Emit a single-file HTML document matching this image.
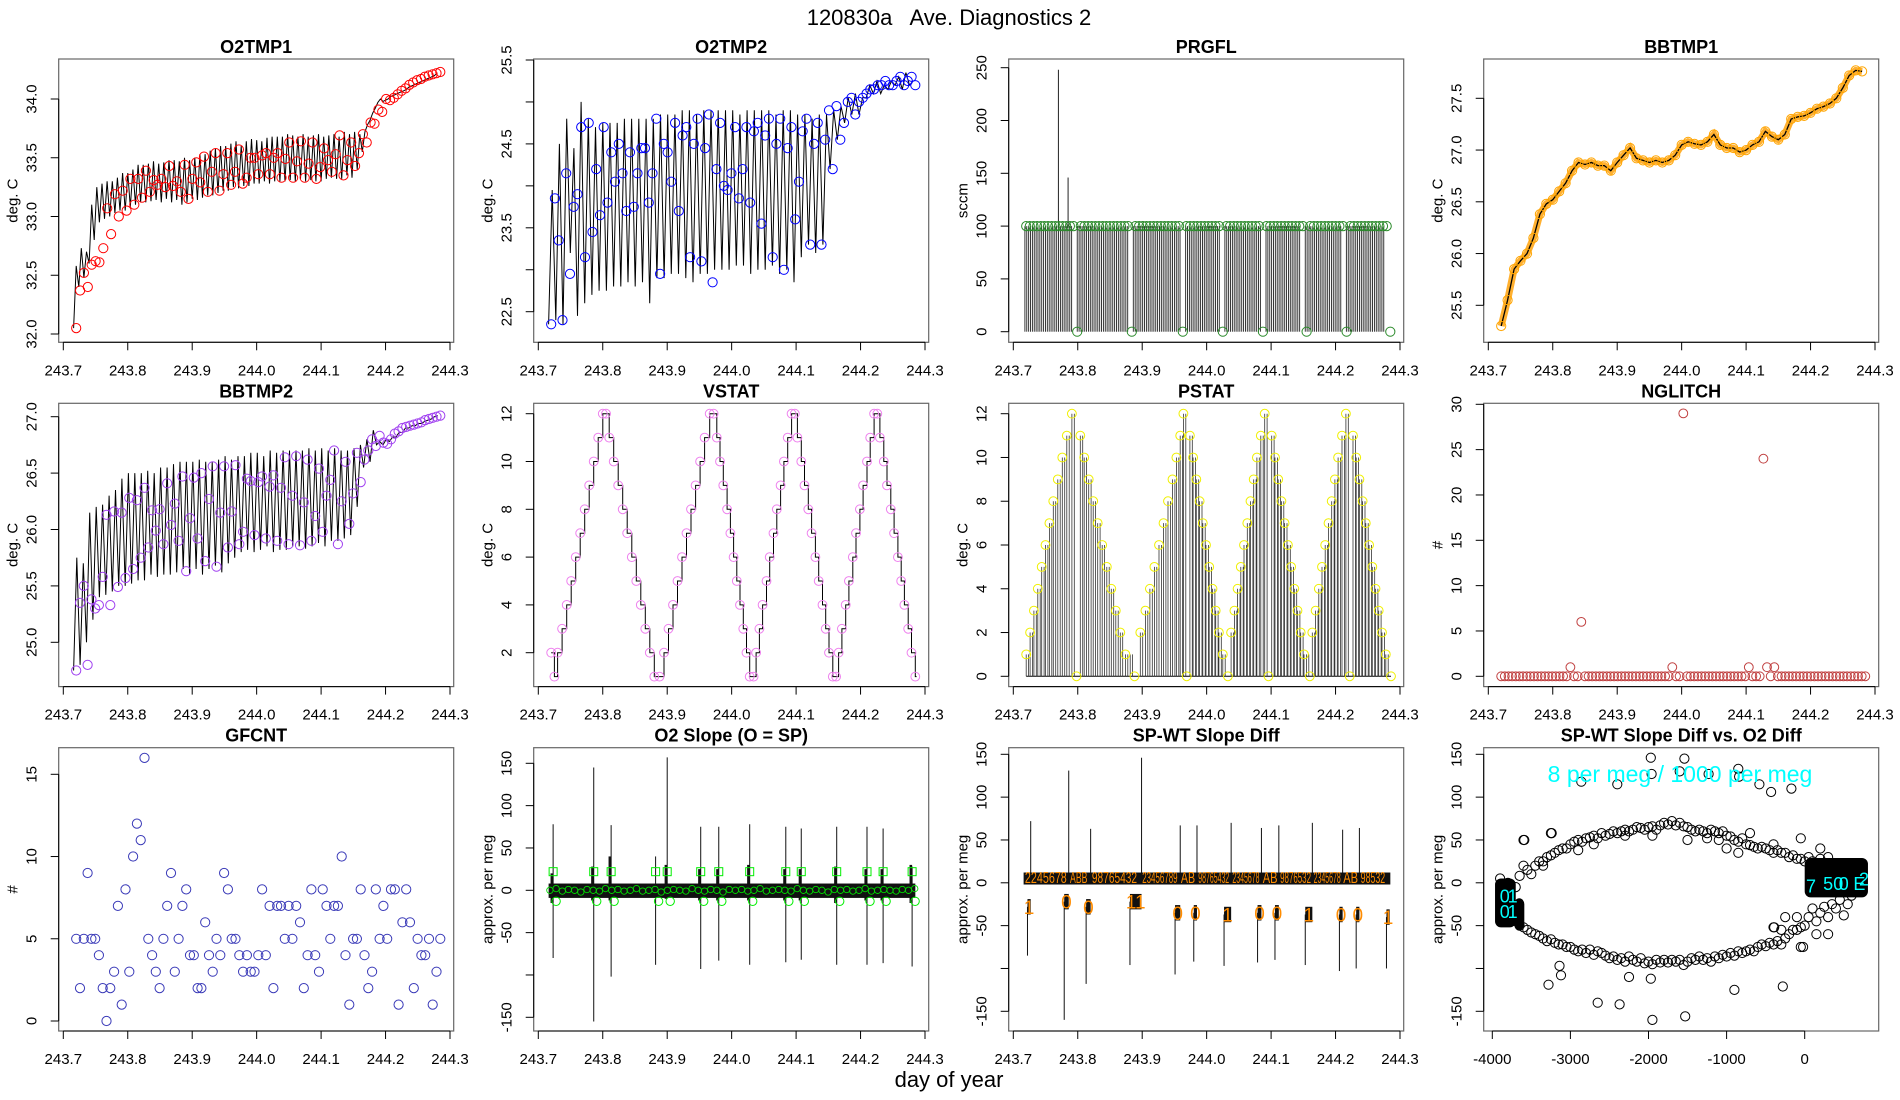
<!DOCTYPE html>
<html><head><meta charset="utf-8"><title>120830a Ave. Diagnostics 2</title>
<style>
html,body{margin:0;padding:0;background:#fff;}
svg{display:block;font-family:"Liberation Sans",Arial,sans-serif;}
</style></head>
<body>
<svg id="chart" xmlns="http://www.w3.org/2000/svg" width="1900" height="1100" viewBox="0 0 1900 1100">
<rect x="0" y="0" width="1900" height="1100" fill="#fff"/>
<text x="949" y="25" text-anchor="middle" font-size="22">120830a &#160; Ave. Diagnostics 2</text>
<text x="949" y="1087" text-anchor="middle" font-size="22">day of year</text>
</svg>
<script>
// ---------- data ----------
const timeTicks=[243.7,243.8,243.9,244.0,244.1,244.2,244.3];
const timeTickLabels=['243.7','243.8','243.9','244.0','244.1','244.2','244.3'];

// O2TMP1
const o2t1LineT0=243.716, o2t1Cycle=0.008;
const o2t1Lo=[32.05,32.40,32.48,32.60,32.80,32.95,32.98,33.00,33.03,33.05,33.05,33.08,33.10,33.12,33.12,33.13,33.14,33.12,33.15,33.12,33.14,33.10,33.12,33.15,33.14,33.16,33.18,33.18,33.20,33.22,33.22,33.25,33.24,33.26,33.26,33.28,33.28,33.30,33.28,33.30,33.30,33.30,33.31,33.30,33.32,33.30,33.31,33.30,33.30,33.32,33.33,33.32,33.32,33.35,33.33,33.40,33.55,33.78,33.88,33.97,33.98,34.00,34.03,34.05,34.07,34.10,34.12,34.14,34.16,34.18,34.20];
const o2t1Hi=[32.58,32.73,32.70,33.10,33.25,33.28,33.30,33.30,33.33,33.37,33.37,33.40,33.44,33.44,33.45,33.47,33.45,33.46,33.48,33.48,33.47,33.50,33.48,33.50,33.53,33.53,33.56,33.58,33.60,33.60,33.62,33.64,33.60,33.64,33.66,33.65,33.64,33.67,33.68,33.68,33.68,33.70,33.69,33.68,33.70,33.68,33.69,33.70,33.68,33.69,33.70,33.68,33.72,33.70,33.72,33.70,33.72,33.82,33.92,34.00,33.99,34.02,34.04,34.06,34.08,34.11,34.13,34.15,34.17,34.19,34.22];
const o2t1Pts=[32.05,32.37,32.52,32.40,32.59,32.62,32.61,32.73,33.07,32.85,33.19,33.00,33.22,33.05,33.32,33.10,33.32,33.16,33.39,33.21,33.31,33.27,33.32,33.25,33.43,33.26,33.30,33.21,33.44,33.15,33.32,33.46,33.29,33.51,33.21,33.38,33.54,33.22,33.36,33.54,33.27,33.38,33.57,33.28,33.33,33.50,33.50,33.36,33.52,33.54,33.36,33.50,33.54,33.33,33.49,33.63,33.33,33.47,33.64,33.33,33.45,33.63,33.32,33.42,33.58,33.48,33.38,33.53,33.69,33.35,33.48,33.63,33.43,33.54,33.70,33.63,33.80,33.79,33.91,33.89,34.00,33.99,34.01,34.04,34.07,34.09,34.12,34.14,34.16,34.17,34.19,34.20,34.21,34.22,34.23];

// O2TMP2
const o2t2LineT0=243.716, o2t2Cycle=0.0112;
const o2t2Lo=[22.35,22.4,22.35,23.2,22.45,22.6,22.7,22.75,22.75,22.8,22.8,22.85,22.8,22.85,22.6,22.9,22.9,22.95,22.95,22.9,22.85,22.95,22.95,23.0,23.0,23.0,23.05,23.05,22.95,23.0,23.0,23.05,22.95,23.0,22.85,23.15,23.3,23.2,23.3,24.2,24.55,24.75,24.85,24.85,25.05,25.1,25.1,25.15,25.2,25.15,25.2];
const o2t2Hi=[23.95,24.5,24.8,24.45,25.0,24.8,24.7,24.75,24.75,24.75,24.8,24.8,24.8,24.8,24.8,24.85,24.85,24.85,24.9,24.9,24.85,24.9,24.9,24.9,24.9,24.9,24.85,24.9,24.9,24.9,24.9,24.85,24.9,24.9,24.85,24.85,24.8,24.85,24.85,24.9,24.95,25.05,25.1,25.05,25.2,25.25,25.2,25.25,25.3,25.35,25.25];
const o2t2Pts=[22.35,23.85,23.35,22.4,24.15,22.95,23.75,23.9,24.7,23.15,24.75,23.45,24.2,23.65,24.7,23.8,24.4,24.05,24.5,24.15,23.7,24.4,23.75,24.15,24.45,24.45,23.8,24.15,24.8,22.95,24.5,24.4,24.05,24.75,23.7,24.6,24.7,23.15,24.5,24.8,23.1,24.45,24.85,22.85,24.2,24.75,24.0,23.95,24.15,24.7,23.85,24.2,24.7,23.8,24.65,24.75,23.55,24.6,24.8,23.15,24.5,24.8,23.0,24.45,24.7,23.6,24.05,24.65,24.8,23.3,24.5,24.75,23.3,24.55,24.9,24.2,24.95,24.55,24.75,25.0,25.05,24.85,25.0,25.05,25.1,25.15,25.15,25.2,25.2,25.25,25.2,25.2,25.25,25.3,25.2,25.25,25.3,25.2];

// PRGFL
const prgflStemT0=243.718, prgflStemStep=0.0029;
const prgflStemRuns=[[100,26],[0,2],[100,28],[0,2],[100,26],[0,2],[100,19],[0,2],[100,20],[0,2],[100,19],[0,2],[100,20],[0,2],[100,21],[0,2]];
const prgflSpikeT=[243.770,243.785];
const prgflSpikeV=[248,146];
const prgflPtRuns=[[100,14],[0,1],[100,14],[0,1],[100,13],[0,1],[100,10],[0,1],[100,10],[0,1],[100,11],[0,1],[100,10],[0,1],[100,11],[0,1]];

// BBTMP1
const bb1T0=243.72, bb1Step=0.01;
const bb1Vals=[25.3,25.55,25.85,25.93,26.0,26.15,26.38,26.48,26.52,26.6,26.68,26.8,26.88,26.86,26.88,26.85,26.85,26.8,26.88,26.95,27.02,26.92,26.9,26.88,26.9,26.88,26.9,26.95,27.05,27.08,27.06,27.05,27.08,27.15,27.05,27.02,27.02,26.98,27.0,27.05,27.08,27.18,27.13,27.1,27.15,27.3,27.32,27.33,27.36,27.4,27.42,27.45,27.5,27.6,27.72,27.77,27.76];

// BBTMP2
const bb2LineT0=243.716, bb2Cycle=0.01;
const bb2Lo=[24.75,24.8,25.0,25.2,25.4,25.42,25.45,25.5,25.5,25.52,25.55,25.55,25.6,25.58,25.6,25.6,25.62,25.65,25.6,25.65,25.6,25.65,25.68,25.62,25.7,25.75,25.8,25.82,25.8,25.82,25.85,25.8,25.82,25.82,25.85,25.85,25.83,25.85,25.88,25.85,25.9,25.9,25.92,25.95,26.2,26.55,26.6,26.75,26.75,26.78,26.82,26.86,26.9,26.92,26.94,26.97,27.0];
const bb2Hi=[25.75,25.7,26.15,26.2,26.22,26.3,26.35,26.45,26.5,26.5,26.5,26.52,26.5,26.55,26.55,26.58,26.6,26.6,26.6,26.62,26.6,26.6,26.62,26.65,26.62,26.65,26.65,26.68,26.68,26.65,26.7,26.68,26.7,26.7,26.7,26.7,26.72,26.7,26.72,26.7,26.72,26.7,26.7,26.72,26.75,26.8,26.88,26.78,26.8,26.82,26.86,26.9,26.92,26.94,26.96,26.98,27.01];
const bb2Pts=[24.75,25.35,25.5,24.8,25.38,25.3,25.33,25.58,26.13,25.33,26.16,25.49,26.15,25.57,26.28,25.65,26.26,25.75,26.37,25.84,26.17,25.99,26.18,25.87,26.41,26.04,26.23,25.9,26.47,25.63,26.1,26.46,25.92,26.5,25.72,26.27,26.56,25.67,26.15,26.56,25.84,26.16,26.57,25.87,25.98,26.45,26.43,25.95,26.42,26.47,25.92,26.38,26.48,25.9,26.37,26.64,25.87,26.3,26.65,25.86,26.24,26.62,25.9,26.12,26.54,25.98,26.3,26.44,26.7,25.87,26.25,26.6,26.05,26.32,26.68,26.42,26.62,26.7,26.8,26.74,26.83,26.77,26.76,26.8,26.85,26.87,26.9,26.91,26.92,26.93,26.94,26.95,26.97,26.98,26.99,27.0,27.01];

// VSTAT
const vstatT=[243.720,243.725,243.730,243.737,243.744,243.751,243.758,243.765,243.772,243.779,243.786,243.793,243.800,243.805,243.810,243.817,243.824,243.831,243.838,243.845,243.852,243.859,243.866,243.873,243.880,243.888,243.895,243.902,243.909,243.916,243.923,243.930,243.937,243.944,243.951,243.958,243.966,243.972,243.977,243.982,243.987,243.993,243.998,244.003,244.008,244.013,244.018,244.023,244.028,244.034,244.038,244.043,244.048,244.054,244.059,244.065,244.070,244.076,244.081,244.087,244.093,244.098,244.102,244.108,244.113,244.119,244.124,244.130,244.135,244.141,244.146,244.151,244.157,244.162,244.166,244.171,244.177,244.182,244.188,244.193,244.199,244.204,244.210,244.215,244.221,244.226,244.230,244.236,244.241,244.247,244.252,244.258,244.263,244.268,244.274,244.279,244.285];
const vstatV=[2,1,2,3,4,5,6,7,8,9,10,11,12,12,11,10,9,8,7,6,5,4,3,2,1,1,2,3,4,5,6,7,8,9,10,11,12,12,11,10,9,8,7,6,5,4,3,2,1,1,2,3,4,5,6,7,8,9,10,11,12,12,11,10,9,8,7,6,5,4,3,2,1,1,2,3,4,5,6,7,8,9,10,11,12,12,11,10,9,8,7,6,5,4,3,2,1];

// PSTAT
const pstatT=[243.720,243.726,243.732,243.738,243.744,243.750,243.756,243.762,243.769,243.776,243.783,243.791,243.798,243.804,243.810,243.817,243.824,243.831,243.838,243.845,243.852,243.859,243.866,243.874,243.888,243.897,243.905,243.912,243.919,243.926,243.933,243.940,243.947,243.953,243.959,243.964,243.969,243.974,243.979,243.984,243.989,243.994,243.999,244.004,244.009,244.014,244.019,244.025,244.033,244.038,244.043,244.048,244.053,244.058,244.063,244.068,244.073,244.078,244.084,244.090,244.096,244.101,244.106,244.111,244.116,244.121,244.126,244.131,244.136,244.141,244.146,244.151,244.160,244.164,244.169,244.174,244.179,244.184,244.189,244.194,244.199,244.204,244.210,244.216,244.222,244.227,244.232,244.237,244.242,244.247,244.252,244.257,244.262,244.267,244.272,244.278,244.286];
const pstatV=[1,2,3,4,5,6,7,8,9,10,11,12,0,11,10,9,8,7,6,5,4,3,2,1,0,2,3,4,5,6,7,8,9,10,11,12,0,11,10,9,8,7,6,5,4,3,2,1,0,2,3,4,5,6,7,8,9,10,11,12,0,11,10,9,8,7,6,5,4,3,2,1,0,2,3,4,5,6,7,8,9,10,11,12,0,11,10,9,8,7,6,5,4,3,2,1,0];

// NGLITCH
const nglitchVals=[0,0,0,0,0,0,0,0,0,0,0,0,0,0,0,0,0,0,0,1,0,0,6,0,0,0,0,0,0,0,0,0,0,0,0,0,0,0,0,0,0,0,0,0,0,0,0,1,0,0,29,0,0,0,0,0,0,0,0,0,0,0,0,0,0,0,0,0,1,0,0,0,24,1,0,1,0,0,0,0,0,0,0,0,0,0,0,0,0,0,0,0,0,0,0,0,0,0,0,0,0];

// GFCNT
const gfcntVals=[5,2,5,9,5,5,4,2,0,2,3,7,1,8,3,10,12,11,16,5,4,3,2,5,7,9,3,5,7,8,4,4,2,2,6,4,3,5,4,9,8,5,5,4,3,4,3,3,4,8,4,7,2,7,7,5,7,5,7,6,2,4,8,4,3,8,7,5,7,7,10,4,1,5,5,8,4,2,3,8,5,7,5,8,8,1,6,8,6,2,5,4,4,5,1,3,5];

// O2 Slope
const o2sSpikeT=[243.723,243.786,243.813,243.882,243.900,243.952,243.980,244.028,244.084,244.108,244.163,244.210,244.235,244.280];
const o2sSpikeUp=[78,145,77,40,157,75,75,78,75,73,75,75,73,28];
const o2sSpikeDn=[-80,-155,-102,-88,-5,-93,-83,-88,-85,-82,-88,-88,-86,-90];
const o2sBumpHi=[20,28,40,30,25,25,30,25,25,28,25,25,30];
const o2sBumpLo=[-15,-12,-12,-10,-12,-12,-12,-12,-12,-15,-12,-12,-15];
const o2sGreen=[0,2,-1,1,0,-2,1,0,-1,2,0,1,-1,0,2,-1,0,1,-2,0,1,0,-1,2,0,-1,1,0,-2,1,0,1,-1,0,2,-1,0,1,0,-1,2,0,-1,1,0,-2,1,0,1,-1,0,2,-1,0,1,0,-1,1,0,2];
const o2sBandHi=8, o2sBandLo=-9;

// SP-WT Slope Diff
const spUpT=[243.727,243.786,243.820,243.899,243.959,243.985,244.038,244.085,244.112,244.164,244.211,244.237];
const spUpV=[72,131,63,146,67,67,70,64,67,70,62,64];
const spDnT=[243.722,243.779,243.813,243.881,243.951,243.980,244.027,244.079,244.106,244.153,244.206,244.232,244.279];
const spDnV=[-85,-160,-118,-96,-107,-92,-97,-93,-90,-96,-103,-100,-100];
const spDropT1=[243.727,243.786,243.820,243.899,243.959,243.985,244.038,244.085,244.112,244.164,244.211,244.237,244.284];
const spDropLevel=[-28,-22,-28,-22,-35,-35,-37,-35,-35,-37,-37,-37,-40];
const spDropLabel=['1','0','0','11','0','0','1','0','0','1','0','0','1'];
const spSegT0=[243.718,243.788,243.822,243.900,243.960,243.987,244.040,244.087,244.114,244.166,244.212,244.239];
const spSegT1=[243.783,243.815,243.892,243.955,243.982,244.035,244.082,244.110,244.162,244.208,244.235,244.277];
const spSegLabel=['2245678','ABB','98765432','23456789','AB','98765432','2345678','AB','9876532','2345678','AB','98532'];
const spBandHi=12, spBandLo=-2;

// Scatter
const scX=[-3900,-3800,-3700,-3650,-3600,-3550,-3500,-3450,-3400,-3350,-3300,-3250,-3200,-3150,-3100,-3050,-3000,-2950,-2900,-2850,-2800,-2750,-2700,-2650,-2600,-2550,-2500,-2450,-2400,-2350,-2300,-2250,-2200,-2150,-2100,-2050,-2000,-1950,-1900,-1850,-1800,-1750,-1700,-1650,-1600,-1550,-1500,-1450,-1400,-1350,-1300,-1250,-1200,-1150,-1100,-1050,-1000,-950,-900,-850,-800,-750,-700,-650,-600,-550,-500,-450,-400,-350,-300,-250,-200,-150,-100,-50,0,50,100,150,200,250,300,350,400,
-3600,-3250,-3350,-2900,-1250,-700,-400,-1000,-850,-2700,-2300,-1950,-1500,-1100,-50,200,
-3700,-3650,-3600,-3550,-3500,-3450,-3400,-3350,-3300,-3250,-3200,-3150,-3100,-3050,-3000,-2950,-2900,-2850,-2800,-2750,-2700,-2650,-2600,-2550,-2500,-2450,-2400,-2350,-2300,-2250,-2200,-2150,-2100,-2050,-2000,-1950,-1900,-1850,-1800,-1750,-1700,-1650,-1600,-1550,-1500,-1450,-1400,-1350,-1300,-1250,-1200,-1150,-1100,-1050,-1000,-950,-900,-850,-800,-750,-700,-650,-600,-550,-500,-450,-400,-350,-300,-250,-200,-150,-100,-50,0,50,100,150,200,250,300,350,400,450,500,550,600,-250,-300,-100,-400,-50,150,300,
-1970,-1960,-1540,-1600,-1230,-850,-840,-580,-430,-170,-2400,-2860,-3590,-3240,-3280,-3120,-3140,-2650,-2370,-1950,-1530,-2250,-1970,-900,-280,-390,-20];
const scY=[5,0,-5,8,20,15,10,20,25,25,30,32,35,38,40,40,45,48,50,48,52,53,55,52,58,55,57,60,58,60,62,60,62,65,64,62,65,66,62,67,70,68,72,67,70,66,65,62,60,62,60,58,62,60,58,60,55,54,50,48,52,45,44,42,40,42,40,38,35,38,35,35,30,32,28,28,25,30,25,20,28,22,30,22,20,
50,58,20,38,52,58,45,40,35,45,55,55,50,50,52,40,
-45,-50,-52,-55,-58,-60,-62,-65,-68,-66,-70,-72,-72,-75,-75,-78,-80,-78,-82,-78,-84,-80,-82,-85,-88,-86,-90,-88,-92,-86,-90,-92,-88,-94,-92,-95,-90,-93,-90,-93,-90,-92,-90,-96,-92,-88,-90,-86,-90,-88,-92,-86,-88,-84,-86,-82,-85,-80,-82,-80,-78,-80,-75,-72,-74,-70,-72,-68,-72,-65,-60,-55,-55,-52,-50,-40,-30,-45,-35,-28,-40,-25,-30,-20,-38,-25,-15,-40,-55,-40,-52,-75,-60,-60,
146,127,145,130,127,133,124,115,106,110,115,118,50,58,-119,-108,-97,-140,-142,-160,-156,-110,-112,-125,-121,-52,-75];
const blobX0=[-3965,-3720,0], blobX1=[-3700,-3590,810], blobY0=[-52,-55,-17], blobY1=[5,-18,29];
const scLabX=[-3840,-3740,-3840,-3740,80,300,430,500,700,760];
const scLabY=[-15,-15,-33,-33,-3,0,0,0,0,5];
const scLabS=['0','1','0','1','7','5','0','0','E','2'];

// ---------- drawing ----------
const svg=document.getElementById('chart');
const NS='http://www.w3.org/2000/svg';
function mk(tag,attrs,parent){const e=document.createElementNS(NS,tag);for(const k in attrs)e.setAttribute(k,attrs[k]);(parent||svg).appendChild(e);return e;}
const COLS=[58.7,533.7,1008.7,1483.7], ROWS=[59,403.3,747.7], PW=395, PH=283.3;
function timeX(col){const L=COLS[col];return t=>L+4.6+(t-243.7)/0.6*386.7;}
function linY(v1,p1,v2,p2){return v=>p1+(v-v1)*(p2-p1)/(v2-v1);}
function rng(a,b,s){const o=[];for(let v=a;v<=b+1e-9;v+=s)o.push(+v.toFixed(4));return o;}

function frame(col,row,key,title,ylab,xs,ys,xT,xL,yT,yL){
  const L=COLS[col],T=ROWS[row],B=T+PH;
  const g=mk('g',{});
  
  
  const box=mk('rect',{x:L,y:T,width:PW,height:PH,fill:'none',stroke:'#666','stroke-width':1.2},g);
  
  
  const tt=mk('text',{x:L+PW/2,y:T-6,'text-anchor':'middle','font-size':18,'font-weight':'bold'},g);
  tt.textContent=title;
  
  
  const xa=mk('g',{},g);
  
  
  const al=mk('line',{x1:xs(xT[0]),x2:xs(xT[xT.length-1]),y1:B,y2:B,stroke:'#000'},xa);
  
  
  xT.forEach((v,i)=>{
    const tk=mk('line',{x1:xs(v),x2:xs(v),y1:B,y2:B+8,stroke:'#000'},xa);
    
    
    const lb=mk('text',{x:xs(v),y:B+33,'text-anchor':'middle','font-size':15},xa);
    lb.textContent=xL[i];
    
    
  });
  const ya=mk('g',{},g);
  
  
  const yl=mk('line',{x1:L,x2:L,y1:ys(yT[0]),y2:ys(yT[yT.length-1]),stroke:'#000'},ya);
  
  
  yT.forEach((v,i)=>{
    const y=ys(v);
    const tk=mk('line',{x1:L-8,x2:L,y1:y,y2:y,stroke:'#000'},ya);
    
    
    if(yL[i]!==''){
      const lb=mk('text',{x:L-22,y:y,'text-anchor':'middle','font-size':15,transform:`rotate(-90 ${L-22} ${y})`},ya);
      lb.textContent=yL[i];
      
      
    }
  });
  const yt=mk('text',{x:L-41,y:T+PH/2,'text-anchor':'middle','font-size':15,transform:`rotate(-90 ${L-41} ${T+PH/2})`},g);
  yt.textContent=ylab;
  
  
  const d=mk('g',{},g);
  
  
  return d;
}
function polyline(g,pts,xs,ys,color,w,nm){
  const p=mk('polyline',{points:pts.map(q=>xs(q[0]).toFixed(1)+','+ys(q[1]).toFixed(1)).join(' '),fill:'none',stroke:color,'stroke-width':w},g);
  
  
  return p;
}
function circ(g,x,y,color,r,nm){
  const c=mk('circle',{cx:x.toFixed(1),cy:y.toFixed(1),r:r||4.6,fill:'none',stroke:color,'stroke-width':1},g);
  
  
  return c;
}
function saw(t0,cyc,lo,hi){const p=[];for(let i=0;i<lo.length;i++){p.push([t0+i*cyc,lo[i]]);p.push([t0+(i+0.5)*cyc,hi[i]]);}return p;}
function ptTimes(n){const s=(244.285-243.72)/(n-1);return i=>243.72+i*s;}
function expand(runs){const o=[];runs.forEach(r=>{for(let i=0;i<r[1];i++)o.push(r[0]);});return o;}

// Panel 1 O2TMP1
(function(){
  const xs=timeX(0), ys=linY(32,334,34,99);
  const yT=rng(32,34,0.5);
  const g=frame(0,0,'o2tmp1','O2TMP1','deg. C',xs,ys,timeTicks,timeTickLabels,yT,yT.map(v=>v.toFixed(1)));
  polyline(g,saw(o2t1LineT0,o2t1Cycle,o2t1Lo,o2t1Hi),xs,ys,'#000',1,'o2tmp1-line');
  const tf=ptTimes(o2t1Pts.length);
  o2t1Pts.forEach((v,i)=>circ(g,xs(tf(i)),ys(v),'#ff0000',4.6,'o2tmp1-point'));
})();
// Panel 2 O2TMP2
(function(){
  const xs=timeX(1), ys=linY(22.5,311.7,25.5,60);
  const yT=rng(22.5,25.5,0.5);
  const yL=yT.map(v=>(Math.round(v*10)%10===5)?v.toFixed(1):'');
  const g=frame(1,0,'o2tmp2','O2TMP2','deg. C',xs,ys,timeTicks,timeTickLabels,yT,yL);
  polyline(g,saw(o2t2LineT0,o2t2Cycle,o2t2Lo,o2t2Hi),xs,ys,'#000',1,'o2tmp2-line');
  const tf=ptTimes(o2t2Pts.length);
  o2t2Pts.forEach((v,i)=>circ(g,xs(tf(i)),ys(v),'#0000ff',4.6,'o2tmp2-point'));
})();
// Panel 3 PRGFL
(function(){
  const xs=timeX(2), ys=linY(0,331.7,250,67.7);
  const yT=rng(0,250,50);
  const g=frame(2,0,'prgfl','PRGFL','sccm',xs,ys,timeTicks,timeTickLabels,yT,yT.map(String));
  const stems=expand(prgflStemRuns);
  stems.forEach((v,i)=>{
    if(v<=0) return;
    const x=xs(prgflStemT0+i*prgflStemStep);
    const l=mk('line',{x1:x,x2:x,y1:ys(0),y2:ys(v),stroke:'#222','stroke-width':0.9},g);
    
    
  });
  prgflSpikeT.forEach((t,i)=>{
    const l=mk('line',{x1:xs(t),x2:xs(t),y1:ys(100),y2:ys(prgflSpikeV[i]),stroke:'#222','stroke-width':1},g);
    
    
  });
  const pts=expand(prgflPtRuns); const tf=ptTimes(pts.length);
  pts.forEach((v,i)=>circ(g,xs(tf(i)),ys(v),'#2a8a2a',4.6,'prgfl-point'));
})();
// Panel 4 BBTMP1
(function(){
  const xs=timeX(3), ys=linY(25.5,305.3,27.5,98.3);
  const yT=rng(25.5,27.5,0.5);
  const g=frame(3,0,'bbtmp1','BBTMP1','deg. C',xs,ys,timeTicks,timeTickLabels,yT,yT.map(v=>v.toFixed(1)));
  const pts=bb1Vals.map((v,i)=>[bb1T0+i*bb1Step,v]);
  polyline(g,pts,xs,ys,'#ffb030',7,'bbtmp1-point-band');
  polyline(g,pts,xs,ys,'#000',1.3,'bbtmp1-line');
  pts.forEach(p=>circ(g,xs(p[0]),ys(p[1]),'#ffa500',4.6,'bbtmp1-point'));
})();
// Panel 5 BBTMP2
(function(){
  const xs=timeX(0), ys=linY(25,642.3,27,416.7);
  const yT=rng(25,27,0.5);
  const g=frame(0,1,'bbtmp2','BBTMP2','deg. C',xs,ys,timeTicks,timeTickLabels,yT,yT.map(v=>v.toFixed(1)));
  polyline(g,saw(bb2LineT0,bb2Cycle,bb2Lo,bb2Hi),xs,ys,'#000',1,'bbtmp2-line');
  const tf=ptTimes(bb2Pts.length);
  bb2Pts.forEach((v,i)=>circ(g,xs(tf(i)),ys(v),'#a040f0',4.6,'bbtmp2-point'));
})();
// Panel 6 VSTAT
(function(){
  const xs=timeX(1), ys=linY(2,652.7,12,413.7);
  const yT=rng(2,12,2);
  const g=frame(1,1,'vstat','VSTAT','deg. C',xs,ys,timeTicks,timeTickLabels,yT,yT.map(String));
  let d='M'+xs(vstatT[0]).toFixed(1)+' '+ys(vstatV[0]).toFixed(1);
  for(let i=1;i<vstatT.length;i++){d+=' H'+xs(vstatT[i]).toFixed(1)+' V'+ys(vstatV[i]).toFixed(1);}
  d+=' H'+xs(vstatT[vstatT.length-1]+0.002).toFixed(1);
  const p=mk('path',{d:d,fill:'none',stroke:'#000','stroke-width':1},g);
  
  
  vstatT.forEach((t,i)=>circ(g,xs(t),ys(vstatV[i]),'#ee82ee',4.4,'vstat-point'));
})();
// Panel 7 PSTAT
(function(){
  const xs=timeX(2), ys=linY(0,676.3,12,413.7);
  const yT=rng(0,12,2);
  const g=frame(2,1,'pstat','PSTAT','deg. C',xs,ys,timeTicks,timeTickLabels,yT,yT.map(String));
  const base=mk('line',{x1:xs(pstatT[0]),x2:xs(pstatT[pstatT.length-1]),y1:ys(0),y2:ys(0),stroke:'#000'},g);
  
  
  for(let i=0;i<pstatT.length-1;i++){
    if(pstatV[i]<=0) continue;
    const x0=xs(pstatT[i]), x1=xs(pstatT[i+1]);
    for(let x=x0;x<x1-0.5;x+=2.4){
      const l=mk('line',{x1:x.toFixed(1),x2:x.toFixed(1),y1:ys(0),y2:ys(pstatV[i]),stroke:'#333','stroke-width':0.8},g);
      
      
    }
  }
  pstatT.forEach((t,i)=>circ(g,xs(t),ys(pstatV[i]),'#f0f000',4.4,'pstat-point'));
})();
// Panel 8 NGLITCH
(function(){
  const xs=timeX(3), ys=linY(0,676.3,30,404.3);
  const yT=rng(0,30,5);
  const g=frame(3,1,'nglitch','NGLITCH','#',xs,ys,timeTicks,timeTickLabels,yT,yT.map(String));
  const tf=ptTimes(nglitchVals.length);
  nglitchVals.forEach((v,i)=>circ(g,xs(tf(i)),ys(v),'#c04040',4.4,'nglitch-point'));
})();
// Panel 9 GFCNT
(function(){
  const xs=timeX(0), ys=linY(0,1021,15,774.3);
  const yT=rng(0,15,5);
  const g=frame(0,2,'gfcnt','GFCNT','#',xs,ys,timeTicks,timeTickLabels,yT,yT.map(String));
  const tf=ptTimes(gfcntVals.length);
  gfcntVals.forEach((v,i)=>circ(g,xs(tf(i)),ys(v),'#3a3ab8',4.6,'gfcnt-point'));
})();
// Panel 10 O2 Slope
(function(){
  const xs=timeX(1), ys=linY(-150,1017.3,150,763.3);
  const yT=rng(-150,150,50);
  const yL=yT.map(v=>v===-100?'':String(v));
  const g=frame(1,2,'o2-slope','O2 Slope (O = SP)','approx. per meg',xs,ys,timeTicks,timeTickLabels,yT,yL);
  const band=mk('rect',{x:xs(243.716),y:ys(o2sBandHi),width:xs(244.285)-xs(243.716),height:ys(o2sBandLo)-ys(o2sBandHi),fill:'#111'},g);
  
  
  o2sBumpHi.forEach((h,i)=>{
    const t=o2sSpikeT[i<3?i:i+1];
    const r=mk('rect',{x:xs(t-0.004),y:ys(h),width:xs(t)-xs(t-0.004),height:ys(o2sBumpLo[i])-ys(h),fill:'#111'},g);
    
    
  });
  o2sSpikeT.forEach((t,i)=>{
    const l=mk('line',{x1:xs(t),x2:xs(t),y1:ys(o2sSpikeDn[i]),y2:ys(o2sSpikeUp[i]),stroke:'#111','stroke-width':1},g);
    
    
  });
  const tf=i=>243.718+i*(0.566/(o2sGreen.length-1));
  o2sGreen.forEach((v,i)=>{const c=circ(g,xs(tf(i)),ys(v),'#00dd00',3.2,'o2-slope-point');c.setAttribute('stroke-width','0.9');});
  o2sSpikeT.forEach((t,i)=>{
    const s=mk('rect',{x:xs(t)-4,y:ys(22)-4,width:8,height:8,fill:'none',stroke:'#00ee00'},g);
    
    
    circ(g,xs(t)+3,ys(-13),'#00ee00',4.2,'o2-slope-o-marker');
  });
})();
// Panel 11 SP-WT Slope Diff
(function(){
  const xs=timeX(2), ys=linY(-150,1011.3,150,754.3);
  const yT=rng(-150,150,50);
  const yL=yT.map(v=>v===-100?'':String(v));
  const g=frame(2,2,'spwt-slope-diff','SP-WT Slope Diff','approx. per meg',xs,ys,timeTicks,timeTickLabels,yT,yL);
  const band=mk('rect',{x:xs(243.716),y:ys(spBandHi),width:xs(244.285)-xs(243.716),height:ys(spBandLo)-ys(spBandHi),fill:'#111'},g);
  
  
  spDnT.forEach((t,i)=>{
    const t1=spDropT1[i], lv=spDropLevel[i];
    const r=mk('rect',{x:xs(t),y:ys(lv+9),width:Math.max(2,xs(t1)-xs(t)),height:ys(lv-9)-ys(lv+9),fill:'#111'},g);
    
    
    const l=mk('line',{x1:xs(t),x2:xs(t),y1:ys(spDnV[i]),y2:ys(lv),stroke:'#111'},g);
    
    
    const tx=mk('text',{x:(xs(t)+xs(t1))/2,y:ys(lv)+7,'text-anchor':'middle','font-size':19,fill:'#ff8c00'},g);
    tx.textContent=spDropLabel[i];
    
    
  });
  spUpT.forEach((t,i)=>{
    const l=mk('line',{x1:xs(t),x2:xs(t),y1:ys(0),y2:ys(spUpV[i]),stroke:'#111'},g);
    
    
  });
  spSegT0.forEach((t,i)=>{
    const w=xs(spSegT1[i])-xs(t);
    const tx=mk('text',{x:xs(t),y:ys(0),'font-size':16,fill:'#ff8c00',textLength:w.toFixed(1),lengthAdjust:'spacingAndGlyphs'},g);
    tx.textContent=spSegLabel[i];
    
    
  });
})();
// Panel 12 Scatter
(function(){
  const xs=linY(-4000,1492.3,0,1804.7), ys=linY(-150,1011.3,150,754.3);
  const xT=[-4000,-3000,-2000,-1000,0];
  const yT=rng(-150,150,50);
  const yL=yT.map(v=>v===-100?'':String(v));
  const g=frame(3,2,'slope-vs-o2-diff','SP-WT Slope Diff vs. O2 Diff','approx. per meg',xs,ys,xT,xT.map(String),yT,yL);
  blobX0.forEach((x0,i)=>{
    const r=mk('rect',{x:xs(x0),y:ys(blobY1[i]),width:xs(blobX1[i])-xs(x0),height:ys(blobY0[i])-ys(blobY1[i]),rx:6,fill:'#000'},g);
    
    
  });
  scX.forEach((x,i)=>circ(g,xs(x),ys(scY[i]),'#000',4.6,'scatter-point'));
  scLabX.forEach((x,i)=>{
    const t=mk('text',{x:xs(x),y:ys(scLabY[i])+7,'text-anchor':'middle','font-size':18,fill:'#00ffff'},g);
    t.textContent=scLabS[i];
    
    
  });
  const ann=mk('text',{x:1680,y:782,'text-anchor':'middle','font-size':23,fill:'#00ffff'},g);
  ann.textContent='8 per meg / 1000 per meg';
  
  
})();
</script>
</body></html>
